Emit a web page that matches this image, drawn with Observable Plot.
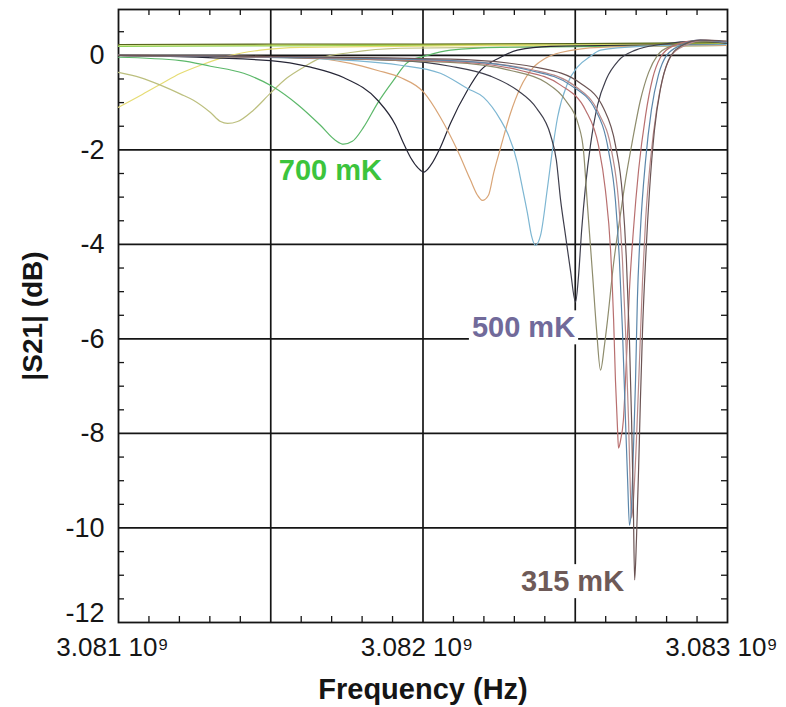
<!DOCTYPE html>
<html><head><meta charset="utf-8">
<script src="https://cdn.jsdelivr.net/npm/d3@7"></script>
<script src="https://cdn.jsdelivr.net/npm/@observablehq/plot@0.6"></script>
<style>body{margin:0;background:#fff}#chart{width:786px;height:707px}</style>
</head><body><div id="chart"></div>
<script>
// ---- data (frequency in MHz, |S21| in dB) ----
const xTickMHz = [3081, 3082, 3083];
const xGridMHz = [3081.5, 3082, 3082.5];
const xMinorMHz = [3081.1,3081.2,3081.3,3081.4,3081.6,3081.7,3081.8,3081.9,3082.1,3082.2,3082.3,3082.4,3082.6,3082.7,3082.8,3082.9];
const yTicks = [-10,-8,-6,-4,-2,0];
const yTickBottom = [-12];
const yGrid = [0,-2,-4,-6,-8,-10];
const yMinor = [-11.5,-11,-10.5,-9.5,-9,-8.5,-7.5,-7,-6.5,-5.5,-5,-4.5,-3.5,-3,-2.5,-1.5,-1,-0.5,0.5];

const labelText = ["700 mK", "500 mK", "315 mK"];
const labelFreq = [3081.696, 3082.330, 3082.491];
const labelDb = [-2.45, -5.77, -11.14];
const labelColor = ["#3cc43c", "#716a9a", "#6e5a58"];

// flat traces (resonances below 3.081 GHz)
const fT = [3081.0, 3081.5, 3082.0, 3082.5, 3083.0];
const dbT1 = [0.22, 0.22, 0.23, 0.24, 0.26];
const dbT2 = [0.23, 0.24, 0.24, 0.25, 0.27];
const dbT3 = [0.19, 0.20, 0.21, 0.22, 0.24];

const fA = [3081.000,3081.072,3081.138,3081.204,3081.269,3081.368,3081.466,3081.598,3081.926,3082.255,3083.000];
const dbA = [-1.10,-0.85,-0.61,-0.38,-0.21,0.00,0.11,0.17,0.19,0.21,0.23];

const fB = [3081.000,3081.072,3081.138,3081.204,3081.246,3081.302,3081.335,3081.358,3081.391,3081.443,3081.499,3081.555,3081.608,3081.663,3081.762,3081.926,3082.583,3083.000];
const dbB = [-0.36,-0.47,-0.63,-0.82,-0.95,-1.21,-1.40,-1.44,-1.40,-1.16,-0.80,-0.47,-0.25,-0.06,0.06,0.15,0.19,0.21];

const fC = [3081.000,3081.204,3081.302,3081.411,3081.506,3081.588,3081.663,3081.713,3081.739,3081.768,3081.805,3081.851,3081.903,3081.949,3082.015,3082.090,3082.255,3083.000];
const dbC = [-0.04,-0.11,-0.23,-0.38,-0.66,-1.04,-1.48,-1.80,-1.88,-1.82,-1.52,-1.01,-0.53,-0.15,0.00,0.11,0.17,0.21];

const fD = [3081.000,3081.499,3081.631,3081.739,3081.851,3081.910,3081.936,3081.959,3081.985,3082.002,3082.025,3082.057,3082.090,3082.146,3082.189,3082.255,3082.310,3082.419,3083.000];
const dbD = [0.00,-0.11,-0.25,-0.47,-0.95,-1.48,-1.86,-2.16,-2.39,-2.47,-2.33,-1.95,-1.44,-0.74,-0.32,-0.04,0.11,0.19,0.23];

const fE = [3081.000,3081.598,3081.762,3081.851,3081.926,3082.002,3082.057,3082.113,3082.156,3082.179,3082.195,3082.215,3082.232,3082.255,3082.287,3082.320,3082.363,3082.402,3082.452,3082.583,3083.000];
const dbE = [0.00,-0.04,-0.17,-0.32,-0.47,-0.78,-1.31,-2.01,-2.64,-2.96,-3.07,-2.96,-2.49,-1.95,-1.23,-0.68,-0.25,-0.06,0.06,0.17,0.21];

const fF = [3081.000,3081.598,3081.926,3082.057,3082.146,3082.199,3082.255,3082.278,3082.310,3082.320,3082.343,3082.356,3082.369,3082.386,3082.409,3082.425,3082.442,3082.475,3082.507,3082.550,3082.583,3082.714,3083.000];
const dbF = [0.00,-0.06,-0.21,-0.38,-0.70,-0.89,-1.37,-1.65,-2.28,-2.60,-3.34,-3.81,-4.02,-3.81,-2.79,-2.01,-1.31,-0.59,-0.25,-0.02,0.11,0.19,0.23];

const fG = [3081.000,3081.926,3082.090,3082.222,3082.310,3082.373,3082.419,3082.438,3082.452,3082.468,3082.484,3082.501,3082.511,3082.521,3082.534,3082.550,3082.573,3082.603,3082.642,3082.698,3082.780,3082.911,3083.000];
const dbG = [0.00,-0.11,-0.23,-0.44,-0.74,-1.12,-1.69,-2.22,-3.07,-3.81,-4.54,-5.22,-4.65,-3.70,-2.75,-1.90,-1.06,-0.49,-0.11,0.11,0.23,0.30,0.25];

const fH = [3081.000,3082.090,3082.287,3082.402,3082.468,3082.511,3082.527,3082.540,3082.557,3082.570,3082.583,3082.596,3082.606,3082.626,3082.649,3082.665,3082.688,3082.714,3082.741,3082.770,3082.813,3082.911,3083.000];
const dbH = [0.00,-0.15,-0.32,-0.57,-0.95,-1.48,-2.01,-3.17,-4.65,-5.81,-6.66,-6.13,-5.60,-4.40,-3.34,-2.64,-1.80,-0.95,-0.36,0.00,0.19,0.30,0.27];

const fI = [3081.000,3082.090,3082.320,3082.452,3082.534,3082.576,3082.599,3082.616,3082.626,3082.632,3082.639,3082.642,3082.649,3082.658,3082.668,3082.678,3082.691,3082.708,3082.731,3082.754,3082.780,3082.819,3082.911,3083.000];
const dbI = [0.00,-0.13,-0.32,-0.63,-1.16,-1.90,-2.85,-4.12,-5.60,-6.87,-7.93,-8.31,-8.14,-7.72,-6.45,-4.97,-3.70,-2.43,-1.27,-0.49,-0.04,0.19,0.32,0.27];

const fJ = [3081.000,3082.090,3082.353,3082.484,3082.567,3082.609,3082.632,3082.645,3082.655,3082.665,3082.672,3082.678,3082.685,3082.691,3082.698,3082.704,3082.714,3082.731,3082.750,3082.773,3082.800,3082.846,3082.911,3083.000];
const dbJ = [0.00,-0.11,-0.32,-0.63,-1.16,-2.01,-3.07,-4.33,-5.81,-7.72,-8.99,-9.94,-9.51,-8.35,-6.87,-5.18,-3.70,-2.22,-1.16,-0.42,0.00,0.21,0.32,0.27];

const fK = [3081.000,3082.090,3082.369,3082.501,3082.576,3082.619,3082.642,3082.655,3082.665,3082.675,3082.681,3082.685,3082.691,3082.701,3082.711,3082.721,3082.731,3082.747,3082.767,3082.790,3082.816,3082.862,3082.928,3083.000];
const dbK = [0.00,-0.11,-0.32,-0.66,-1.21,-2.01,-3.07,-4.33,-5.81,-7.72,-9.20,-9.79,-9.41,-8.14,-6.45,-4.76,-3.49,-2.22,-1.16,-0.42,0.00,0.21,0.32,0.27];

const fL = [3081.000,3082.090,3082.386,3082.517,3082.593,3082.632,3082.655,3082.668,3082.678,3082.685,3082.691,3082.695,3082.701,3082.708,3082.714,3082.721,3082.731,3082.744,3082.760,3082.780,3082.806,3082.846,3082.911,3083.000];
const dbL = [0.00,-0.08,-0.27,-0.59,-1.12,-1.90,-2.96,-4.33,-6.03,-7.72,-9.62,-11.10,-10.25,-8.77,-7.29,-5.81,-4.33,-2.85,-1.59,-0.70,-0.11,0.19,0.32,0.30];

const series = [
  {f: fT, db: dbT3, color: "#8ed25a"},
  {f: fT, db: dbT1, color: "#c0d448"},
  {f: fT, db: dbT2, color: "#56641e"},
  {f: fA, db: dbA, color: "#e6dc74"},
  {f: fB, db: dbB, color: "#bcbf7e"},
  {f: fC, db: dbC, color: "#5cb86a"},
  {f: fD, db: dbD, color: "#262636"},
  {f: fE, db: dbE, color: "#d9a577"},
  {f: fF, db: dbF, color: "#7db6d2"},
  {f: fG, db: dbG, color: "#3e3e4c"},
  {f: fH, db: dbH, color: "#8e8c6c"},
  {f: fI, db: dbI, color: "#b86f6f"},
  {f: fK, db: dbK, color: "#b98a8a"},
  {f: fJ, db: dbJ, color: "#5b86aa"},
  {f: fL, db: dbL, color: "#6b5454"}
];

// ---- layout ----
const W = 786, H = 707, mL = 118, mR = 59, mT = 9, mB = 85;
const frameW = W - mL - mR, frameH = H - mT - mB;
const hz = mhz => mhz * 1e6;
const ink = "#151515";
const font = "'Liberation Sans', Arial, Helvetica, sans-serif";

const marks = [
  Plot.ruleY(yGrid, {y: d => d, stroke: ink, strokeWidth: 1.7}),
  Plot.ruleX(xGridMHz, {x: hz, stroke: ink, strokeWidth: 1.7}),
  Plot.tickX(xMinorMHz, {x: hz, insetTop: frameH - 6, stroke: ink, strokeWidth: 1.3}),
  Plot.tickX(xMinorMHz, {x: hz, insetBottom: frameH - 6, stroke: ink, strokeWidth: 1.3}),
  Plot.tickY(yMinor, {y: d => d, insetRight: frameW - 6, stroke: ink, strokeWidth: 1.3}),
  Plot.tickY(yMinor, {y: d => d, insetLeft: frameW - 6, stroke: ink, strokeWidth: 1.3}),
  Plot.frame({stroke: ink, strokeWidth: 1.8}),
  Plot.axisX(xTickMHz.map(hz), {tickSize: 0, tickPadding: 15, fontSize: 26, dx: -6, label: null,
    tickFormat: d => (d / 1e9).toFixed(3) + " 10\u2079"}),
  Plot.axisY(yTicks, {tickSize: 0, tickPadding: 14, fontSize: 27, label: null, tickFormat: d => String(d)}),
  Plot.axisY(yTickBottom, {tickSize: 0, tickPadding: 14, fontSize: 27, dy: -9, label: null, tickFormat: d => String(d)}),
  Plot.text(["|S21| (dB)"], {frameAnchor: "left", dx: -85, rotate: -90, textAnchor: "middle", lineAnchor: "middle",
    fontSize: 28, fontWeight: "bold", fill: ink}),
  Plot.text(["Frequency (Hz)"], {frameAnchor: "bottom", dy: 67, textAnchor: "middle", lineAnchor: "middle",
    fontSize: 29, fontWeight: "bold", fill: ink})
];
labelText.forEach((t, i) => {
  marks.push(Plot.text([t], {x: () => hz(labelFreq[i]), y: () => labelDb[i], text: d => d,
    fill: labelColor[i], fontSize: 29, fontWeight: "bold"}));
});
series.forEach(s => {
  marks.push(Plot.line(s.f.map((f, i) => ({f, db: s.db[i]})), {
    x: d => hz(d.f), y: "db", stroke: s.color, strokeWidth: 1.2, curve: "monotone-x", clip: true}));
});

const chart = Plot.plot({
  width: W, height: H,
  marginLeft: mL, marginRight: mR, marginTop: mT, marginBottom: mB,
  style: {fontFamily: font, background: "#fff", color: ink, overflow: "visible"},
  x: {type: "linear", domain: [hz(3081), hz(3083)]},
  y: {domain: [-12, 0.97]},
  marks
});
document.getElementById("chart").appendChild(chart);

// white boxes behind the temperature labels
const svgBox = chart.getBoundingClientRect();
chart.querySelectorAll("text").forEach(t => {
  if (!labelText.includes(t.textContent)) return;
  const b = t.getBoundingClientRect();
  const g = t.closest("g");
  const r = document.createElementNS("http://www.w3.org/2000/svg", "rect");
  r.setAttribute("x", b.left - svgBox.left - 3);
  r.setAttribute("y", b.top - svgBox.top - 1);
  r.setAttribute("width", b.width + 6);
  r.setAttribute("height", b.height + 2);
  r.setAttribute("fill", "#fff");
  g.parentNode.insertBefore(r, g);
});
</script>
</body></html>
